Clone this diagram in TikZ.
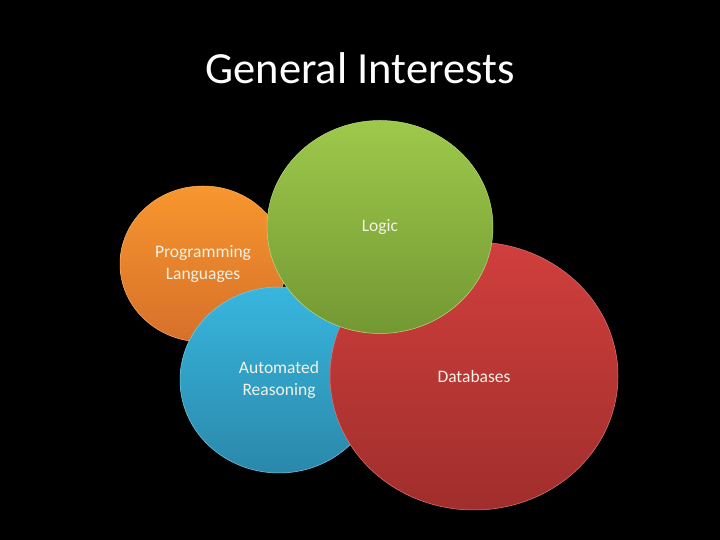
\documentclass[tikz,border=0pt]{standalone}
\usepackage{fontspec}
\setmainfont{Carlito}
\usetikzlibrary{shapes.geometric}
\definecolor{otop}{HTML}{F8962E}
\definecolor{obot}{HTML}{D6702A}
\definecolor{btop}{HTML}{38B6DE}
\definecolor{bbot}{HTML}{2A88AA}
\definecolor{rtop}{HTML}{D03F3D}
\definecolor{rbot}{HTML}{A02E2C}
\definecolor{gtop}{HTML}{9DC94B}
\definecolor{gbot}{HTML}{739833}
\definecolor{labelc}{HTML}{F4F1E6}
\tikzset{
  bubble/.style={ellipse, inner sep=0pt, line width=0.5pt, align=center,
    text=labelc, font=\fontsize{17.5}{22}\selectfont},
}
\begin{document}
\begin{tikzpicture}[x=1pt,y=1pt]
\fill[black] (0,0) rectangle (720,540);
\useasboundingbox (0,0) rectangle (720,540);
\node[text=white, font=\fontsize{44.5}{52}\selectfont] (title) at (360,472) {General Interests};
\node[bubble, minimum width=166pt, minimum height=156pt, top color=otop, bottom color=obot, draw=otop!70!white] (pl) at (203,276) {Programming\\Languages};
\node[bubble, minimum width=198pt, minimum height=186pt, top color=btop, bottom color=bbot, draw=btop!70!white] (ar) at (279,160) {Automated\\Reasoning};
\node[bubble, minimum width=288pt, minimum height=268pt, top color=rtop, bottom color=rbot, draw=rtop!70!white] (db) at (474,164) {Databases};
\node[bubble, minimum width=226pt, minimum height=213pt, top color=gtop, bottom color=gbot, draw=gtop!70!white] (lg) at (380,313) {Logic};
\end{tikzpicture}
\end{document}
